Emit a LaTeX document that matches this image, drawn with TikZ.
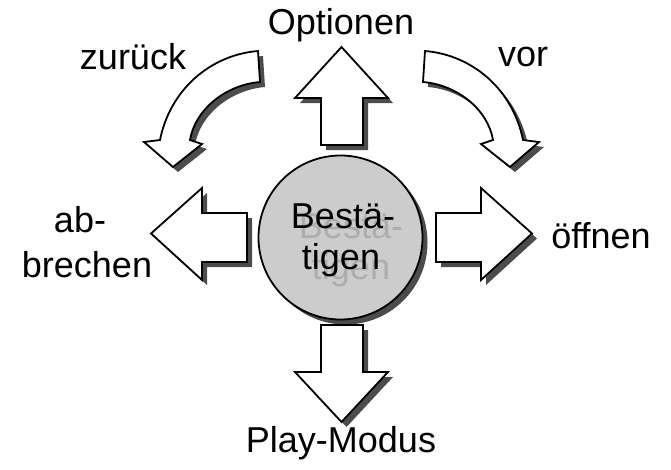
\documentclass[tikz,border=0pt]{standalone}
\usepackage{fontspec}
\setmainfont{Liberation Sans}
\begin{document}
\begin{tikzpicture}[x=1pt,y=-1pt,
  arrowshape/.style={draw=black,line width=1.8pt,fill=white,line join=miter},
  shadowshape/.style={fill=black!70,draw=none},
  lbl/.style={font=\fontsize{36}{40}\selectfont,inner sep=0pt,text=black},
  shtxt/.style={lbl,text=black!32,anchor=base},
  ctxt/.style={lbl,anchor=base}]
\useasboundingbox (0,0) rectangle (671,469);
\def\uparr{(341.5,47) -- (388,98) -- (363,98) -- (363,145) -- (321,145) -- (321,98) -- (295,98) -- cycle}
\def\downarr{(321,325) -- (363,325) -- (363,372) -- (388,372) -- (341.5,422) -- (295,372) -- (321,372) -- cycle}
\def\leftarr{(151,233.5) -- (202,188) -- (202,213) -- (247,213) -- (247,262) -- (202,262) -- (202,280) -- cycle}
\def\rightarr{(532,233.5) -- (481,188) -- (481,213) -- (436,213) -- (436,262) -- (481,262) -- (481,280) -- cycle}
\def\lcurv{(258,51) .. controls (210,55) and (170,90) .. (160,140) -- (144,142) -- (173,167) -- (202,144) -- (190,140) .. controls (195,110) and (225,85) .. (260,82) -- cycle}
\def\rcurv{(425,51) .. controls (473,55) and (513,90) .. (523,140) -- (539,142) -- (510,167) -- (481,144) -- (493,140) .. controls (488,110) and (458,85) .. (423,82) -- cycle}
% shadows
\begin{scope}[shift={(5,5)}]
\path[shadowshape] \uparr; \path[shadowshape] \downarr; \path[shadowshape] \leftarr; \path[shadowshape] \rightarr;
\path[shadowshape] \lcurv; \path[shadowshape] \rcurv;
\path[shadowshape] (340.5,237.5) circle (82);
\end{scope}
\path[arrowshape] \uparr; \path[arrowshape] \downarr; \path[arrowshape] \leftarr; \path[arrowshape] \rightarr;
\path[arrowshape] \lcurv; \path[arrowshape] \rcurv;
\node[circle,draw=black,line width=1.8pt,fill=black!20,minimum size=164pt,inner sep=0pt] (center) at (340.5,237.5) {};
\node[shtxt] (shadowa) at (351,238) {Bestä-};
\node[shtxt] (shadowb) at (351,279) {tigen};
\node[ctxt] (centera) at (343,228) {Bestä-};
\node[ctxt] (centerb) at (341,269) {tigen};
\node[lbl] (optionen) at (341,25) {Optionen};
\node[lbl] (playmodus) at (341,443) {Play-Modus};
\node[lbl] (zurueck) at (133,57) {zurück};
\node[lbl] (vor) at (523,57) {vor};
\node[lbl] (oeffnen) at (601,236) {öffnen};
\node[lbl] (ab) at (80,220) {ab-};
\node[lbl] (brechen) at (87,265) {brechen};
\end{tikzpicture}
\end{document}
